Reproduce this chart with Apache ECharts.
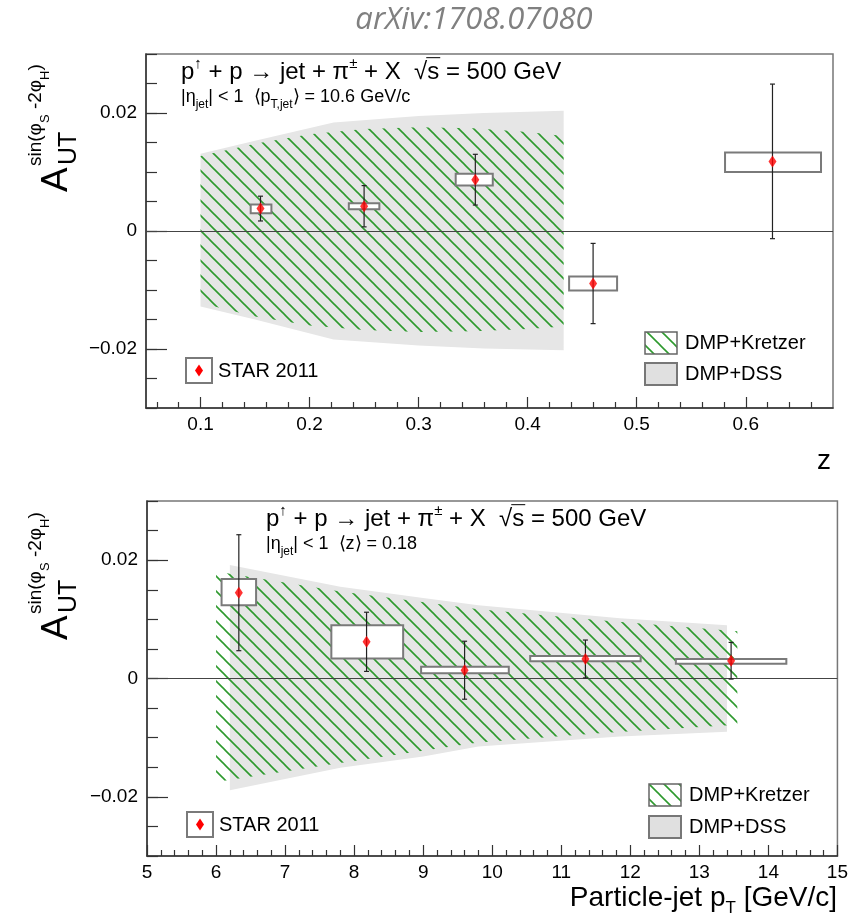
<!DOCTYPE html>
<html>
<head>
<meta charset="utf-8">
<script src="https://cdn.jsdelivr.net/npm/echarts@6/dist/echarts.min.js"></script>
<style>html,body{margin:0;padding:0;background:#fff}#c{width:851px;height:922px}</style>
</head>
<body>
<div id="c"></div>
<script>
// ---------------- DATA ----------------
// Top panel (vs z)
const zPoints   = [0.155, 0.250, 0.352, 0.460, 0.6245];
const zValues   = [0.0038, 0.0042, 0.0087, -0.0089, 0.0118];
const zStatErr  = [0.0021, 0.0035, 0.0043, 0.0068, 0.0131];
const zSysLow   = [0.0030, 0.0037, 0.0077, -0.0101, 0.0100];
const zSysHigh  = [0.0045, 0.0047, 0.0097, -0.0077, 0.0133];
const zBinLow   = [0.146, 0.236, 0.334, 0.438, 0.581];
const zBinHigh  = [0.165, 0.264, 0.368, 0.482, 0.669];
const zDssX     = [0.1, 0.15, 0.222, 0.3, 0.36, 0.433];
const zDssHigh  = [0.0131, 0.0153, 0.0184, 0.0195, 0.0200, 0.0204];
const zDssLow   = [-0.0128, -0.0150, -0.0184, -0.0194, -0.0199, -0.0202];
const zKrX      = [0.1, 0.15, 0.2, 0.25, 0.3, 0.35, 0.4, 0.433];
const zKrHigh   = [0.0127, 0.0148, 0.0164, 0.0173, 0.0176, 0.0174, 0.0168, 0.0161];
const zKrLow    = [-0.0122, -0.0145, -0.0160, -0.0168, -0.0171, -0.0170, -0.0166, -0.0162];
const zMajorTicks = [0.1, 0.2, 0.3, 0.4, 0.5, 0.6];
const zMinorTicks = [0.06, 0.08, 0.12, 0.14, 0.16, 0.18, 0.22, 0.24, 0.26, 0.28, 0.32, 0.34, 0.36, 0.38,
                     0.42, 0.44, 0.46, 0.48, 0.52, 0.54, 0.56, 0.58, 0.62, 0.64, 0.66];
// Bottom panel (vs particle-jet pT)
const ptPoints  = [6.33, 8.18, 9.60, 11.35, 13.46];
const ptValues  = [0.0145, 0.0062, 0.0014, 0.0033, 0.0030];
const ptStatErr = [0.0098, 0.0050, 0.0049, 0.0032, 0.0031];
const ptSysLow  = [0.0124, 0.0034, 0.0009, 0.0029, 0.0025];
const ptSysHigh = [0.0168, 0.0090, 0.0020, 0.0038, 0.0033];
const ptBinLow  = [6.08, 7.67, 8.97, 10.55, 12.66];
const ptBinHigh = [6.58, 8.71, 10.24, 12.15, 14.26];
const ptDssX    = [6.2, 7.8, 9.0, 9.8, 11.85, 13.4];
const ptDssHigh = [0.0192, 0.0155, 0.0136, 0.0124, 0.0102, 0.0090];
const ptDssLow  = [-0.0189, -0.0151, -0.0132, -0.0115, -0.0098, -0.0090];
const ptKrX     = [6.0, 7.8, 9.8, 11.6, 13.55];
const ptKrHigh  = [0.0181, 0.0147, 0.0117, 0.0098, 0.0080];
const ptKrLow   = [-0.0175, -0.0143, -0.0108, -0.0092, -0.0078];
// y ticks
const yMajorTicks = [-0.02, 0, 0.02];

// ---------------- STYLE HELPERS ----------------
const FONTNAME = '"Liberation Sans", Arial, sans-serif';
const hatch = document.createElement('canvas');
hatch.width = 15; hatch.height = 15;
(function(){
  const g = hatch.getContext('2d');
  g.strokeStyle = '#2e9a2e'; g.lineWidth = 1.6;
  [-15, 0, 15].forEach(k => { g.beginPath(); g.moveTo(k - 3, -3); g.lineTo(k + 18, 18); g.stroke(); });
})();
const hatchFill = { image: hatch, repeat: 'repeat' };
const GRAY = '#e6e6e6';

const mctx = document.createElement('canvas').getContext('2d');
function measure(t, s, st) { mctx.font = (st || '') + ' ' + s + 'px ' + FONTNAME; return mctx.measureText(t).width; }
function textRun(x0, baseline, tokens, align, color) {
  const total = tokens.reduce((a, tk) => a + measure(tk.t, tk.s), 0);
  let x = align === 'right' ? x0 - total : x0;
  const els = [];
  tokens.forEach(tk => {
    const w = measure(tk.t, tk.s);
    els.push({ type: 'text', x: x, y: baseline + (tk.dy || 0) - 0.31 * tk.s, silent: true,
      style: { text: tk.t, font: tk.s + 'px ' + FONTNAME, fill: color || '#000',
               align: 'left', verticalAlign: 'middle', textAlign: 'left', textVerticalAlign: 'middle' } });
    if (tk.over) {
      const yo = baseline + (tk.dy || 0) - 0.93 * tk.s;
      els.push({ type: 'line', silent: true, shape: { x1: x - 1, y1: yo, x2: x + w + 1, y2: yo }, style: { stroke: '#000', lineWidth: 1 } });
    }
    x += w;
  });
  return els;
}

function bandSeries(xs, lo, hi, fill, xi, yi, z, extra) {
  return Object.assign({
    type: 'custom', xAxisIndex: xi, yAxisIndex: yi, z: z, silent: true, clip: true,
    data: xs.map((x, i) => [x, lo[i], hi[i]]),
    encode: { x: 0, y: [1, 2] },
    renderItem: function (params, api) {
      if (params.dataIndex !== 0) return null;
      const pts = [];
      for (let i = 0; i < xs.length; i++) pts.push(api.coord([xs[i], hi[i]]));
      for (let i = xs.length - 1; i >= 0; i--) pts.push(api.coord([xs[i], lo[i]]));
      return { type: 'polygon', shape: { points: pts }, style: { fill: fill, stroke: null } };
    }
  }, extra || {});
}
function boxSeries(xl, xh, yl, yh, xi, yi) {
  return {
    type: 'custom', xAxisIndex: xi, yAxisIndex: yi, z: 6, silent: true,
    data: xl.map((v, i) => [xl[i], xh[i], yl[i], yh[i]]),
    encode: { x: [0, 1], y: [2, 3] },
    renderItem: function (params, api) {
      const p1 = api.coord([api.value(0), api.value(3)]);
      const p2 = api.coord([api.value(1), api.value(2)]);
      return { type: 'rect', shape: { x: p1[0], y: p1[1], width: p2[0] - p1[0], height: p2[1] - p1[1] },
               style: { fill: '#fff', stroke: '#7a7a7a', lineWidth: 2 } };
    }
  };
}
function errSeries(xs, ys, es, xi, yi) {
  return {
    type: 'custom', xAxisIndex: xi, yAxisIndex: yi, z: 7, silent: true,
    data: xs.map((x, i) => [x, ys[i], es[i]]),
    encode: { x: 0, y: 1 },
    renderItem: function (params, api) {
      const x = api.value(0), y = api.value(1), e = api.value(2);
      const t = api.coord([x, y + e]), b = api.coord([x, y - e]);
      const st = { stroke: '#222', lineWidth: 1.2 };
      return { type: 'group', children: [
        { type: 'line', shape: { x1: t[0], y1: t[1], x2: b[0], y2: b[1] }, style: st },
        { type: 'line', shape: { x1: t[0] - 2.5, y1: t[1], x2: t[0] + 2.5, y2: t[1] }, style: st },
        { type: 'line', shape: { x1: b[0] - 2.5, y1: b[1], x2: b[0] + 2.5, y2: b[1] }, style: st }
      ] };
    }
  };
}
function pointSeries(xs, ys, xi, yi) {
  return { type: 'scatter', xAxisIndex: xi, yAxisIndex: yi, z: 8, silent: true,
    symbol: 'diamond', symbolSize: [8, 12], itemStyle: { color: '#ff0000' },
    data: xs.map((x, i) => [x, ys[i]]) };
}
const zeroLine = { silent: true, symbol: ['none', 'none'], label: { show: false },
  lineStyle: { color: '#444', width: 1, type: 'solid' }, data: [{ yAxis: 0 }] };

const labelStyle = { fontFamily: FONTNAME, fontSize: 19, color: '#000' };
function yFmt(v) { return v === 0 ? '0' : (v < 0 ? '\u2212' + Math.abs(v) : String(v)); }

function yAxes(grid) {
  return [
    { type: 'value', gridIndex: grid, min: -0.03, max: 0.03, position: 'left',
      axisLine: { show: true, lineStyle: { color: '#333', width: 1.5 } },
      axisTick: { show: true, inside: true, length: 21, customValues: yMajorTicks, lineStyle: { color: '#333', width: 1.2 } },
      axisLabel: Object.assign({ customValues: yMajorTicks, formatter: yFmt, margin: 9 }, labelStyle),
      splitLine: { show: false } },
    { type: 'value', gridIndex: grid, min: -0.03, max: 0.03, interval: 0.005, position: 'left',
      axisLine: { show: false }, axisLabel: { show: false }, splitLine: { show: false },
      axisTick: { show: true, inside: true, length: 11, lineStyle: { color: '#333', width: 1.2 } } }
  ];
}

// ---------------- GRAPHICS (texts, legends) ----------------
function yTitle(x, y) {
  return { type: 'group', x: x, y: y, rotation: Math.PI / 2, silent: true, children: [].concat(
    textRun(0, 0, [{ t: 'A', s: 37 }]),
    textRun(27, 0, [{ t: 'UT', s: 25, dy: 9 }]),
    textRun(26, -26, [{ t: 'sin(\u03c6', s: 19 }, { t: 'S', s: 13, dy: 7 }, { t: ' -2\u03c6', s: 19 }, { t: 'H', s: 13, dy: 7 }, { t: ')', s: 19 }])
  ) };
}
function legendBlock(sx, sy, kx, ky, dy2) {
  return [
    { type: 'rect', silent: true, shape: { x: sx, y: sy, width: 26, height: 25 }, style: { fill: '#fff', stroke: '#7a7a7a', lineWidth: 2 } },
    { type: 'polygon', silent: true, shape: { points: [[sx + 13, sy + 6.5], [sx + 17, sy + 12.5], [sx + 13, sy + 18.5], [sx + 9, sy + 12.5]] }, style: { fill: '#ff0000' } },
    ...textRun(sx + 32, sy + 20, [{ t: 'STAR 2011', s: 20 }]),
    { type: 'rect', silent: true, shape: { x: kx, y: ky, width: 32, height: 22 }, style: { fill: hatchFill, stroke: '#666', lineWidth: 1.5 } },
    ...textRun(kx + 40, ky + 18, [{ t: 'DMP+Kretzer', s: 20 }]),
    { type: 'rect', silent: true, shape: { x: kx, y: ky + dy2, width: 32, height: 22 }, style: { fill: '#e0e0e0', stroke: '#777', lineWidth: 2 } },
    ...textRun(kx + 40, ky + dy2 + 18, [{ t: 'DMP+DSS', s: 20 }])
  ];
}

const graphics = [].concat(
  [{ type: 'text', x: 474, y: 20, silent: true, style: { text: 'arXiv:1708.07080', font: 'italic 31px "Open Sans", sans-serif', fill: '#808080', align: 'center', verticalAlign: 'middle', textAlign: 'center', textVerticalAlign: 'middle' } }],
  [yTitle(68, 192), yTitle(68, 640)],
  textRun(181, 80, [{ t: 'p', s: 24 }, { t: '\u2191', s: 15, dy: -11 }, { t: ' + p \u2192 jet + \u03c0', s: 24 }, { t: '\u00b1', s: 15, dy: -11 }, { t: ' + X  \u221a', s: 24 }, { t: 's', s: 24, over: true }, { t: ' = 500 GeV', s: 24 }]),
  textRun(181, 103, [{ t: '|\u03b7', s: 18 }, { t: 'jet', s: 12, dy: 5 }, { t: '| < 1  \u27e8p', s: 18 }, { t: 'T,jet', s: 12, dy: 5 }, { t: '\u27e9 = 10.6 GeV/c', s: 18 }]),
  textRun(266, 527, [{ t: 'p', s: 24 }, { t: '\u2191', s: 15, dy: -11 }, { t: ' + p \u2192 jet + \u03c0', s: 24 }, { t: '\u00b1', s: 15, dy: -11 }, { t: ' + X  \u221a', s: 24 }, { t: 's', s: 24, over: true }, { t: ' = 500 GeV', s: 24 }]),
  textRun(266, 550, [{ t: '|\u03b7', s: 18 }, { t: 'jet', s: 12, dy: 5 }, { t: '| < 1  \u27e8z\u27e9 = 0.18', s: 18 }]),
  textRun(831, 470, [{ t: 'z', s: 28 }], 'right'),
  textRun(837, 907, [{ t: 'Particle-jet p', s: 28 }, { t: 'T', s: 17, dy: 7 }, { t: ' [GeV/c]', s: 28 }], 'right'),
  legendBlock(186, 358, 645, 332, 31),
  legendBlock(187, 812, 649, 784, 32)
);

// ---------------- CHART ----------------
const chart = echarts.init(document.getElementById('c'), null, { renderer: 'canvas' });
chart.setOption({
  animation: false,
  backgroundColor: '#fff',
  grid: [
    { left: 146, top: 54, right: 18, bottom: 514, show: true, borderColor: '#777', borderWidth: 1.5, backgroundColor: 'transparent' },
    { left: 147, top: 501, right: 13, bottom: 66, show: true, borderColor: '#777', borderWidth: 1.5, backgroundColor: 'transparent' }
  ],
  xAxis: [
    { type: 'value', gridIndex: 0, min: 0.05, max: 0.68, position: 'bottom',
      axisLine: { show: true, onZero: false, lineStyle: { color: '#333', width: 1.5 } },
      axisTick: { show: true, inside: true, length: 11, customValues: zMajorTicks, lineStyle: { color: '#333', width: 1.2 } },
      axisLabel: Object.assign({ customValues: zMajorTicks, margin: 7 }, labelStyle),
      splitLine: { show: false } },
    { type: 'value', gridIndex: 0, min: 0.05, max: 0.68, position: 'bottom',
      axisLine: { show: false, onZero: false }, axisLabel: { show: false }, splitLine: { show: false },
      axisTick: { show: true, inside: true, length: 6, customValues: zMinorTicks, lineStyle: { color: '#333', width: 1.2 } } },
    { type: 'value', gridIndex: 1, min: 5, max: 15, interval: 1, position: 'bottom',
      axisLine: { show: true, onZero: false, lineStyle: { color: '#333', width: 1.5 } },
      axisTick: { show: true, inside: true, length: 11, lineStyle: { color: '#333', width: 1.2 } },
      minorTick: { show: true, splitNumber: 5, length: 6, lineStyle: { color: '#333', width: 1.2 } },
      axisLabel: Object.assign({ margin: 7, showMinLabel: true, showMaxLabel: true }, labelStyle),
      splitLine: { show: false } }
  ],
  yAxis: [].concat(yAxes(0), yAxes(1)),
  graphic: graphics,
  series: [
    bandSeries(zDssX, zDssLow, zDssHigh, GRAY, 0, 0, 1, { markLine: zeroLine }),
    bandSeries(zKrX, zKrLow, zKrHigh, hatchFill, 0, 0, 2),
    boxSeries(zBinLow, zBinHigh, zSysLow, zSysHigh, 0, 0),
    errSeries(zPoints, zValues, zStatErr, 0, 0),
    pointSeries(zPoints, zValues, 0, 0),
    bandSeries(ptDssX, ptDssLow, ptDssHigh, GRAY, 2, 2, 1, { markLine: zeroLine }),
    bandSeries(ptKrX, ptKrLow, ptKrHigh, hatchFill, 2, 2, 2),
    boxSeries(ptBinLow, ptBinHigh, ptSysLow, ptSysHigh, 2, 2),
    errSeries(ptPoints, ptValues, ptStatErr, 2, 2),
    pointSeries(ptPoints, ptValues, 2, 2)
  ]
});
</script>
</body>
</html>
